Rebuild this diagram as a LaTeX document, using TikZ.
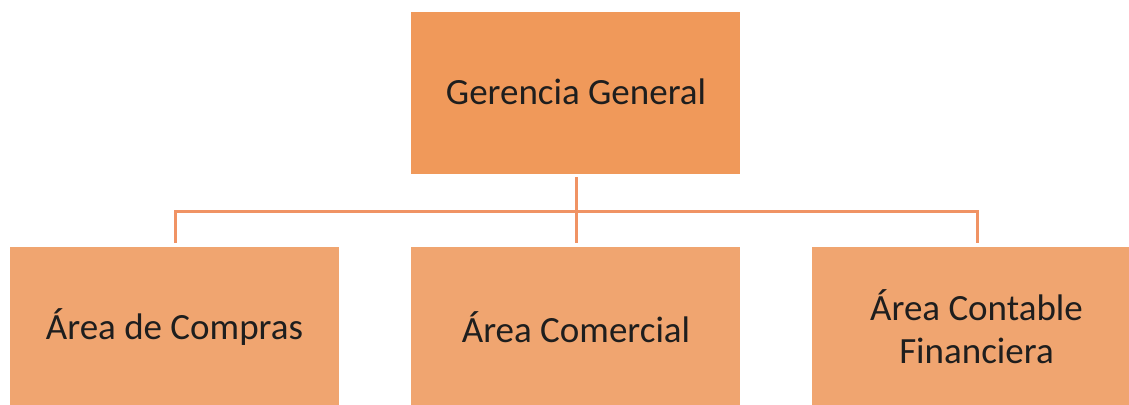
\documentclass[tikz,border=0pt]{standalone}
\usepackage{fontspec}
\setmainfont{Carlito}
\begin{document}
\begin{tikzpicture}[x=1pt,y=-1pt,
  topbox/.style={fill={rgb,255:red,240;green,153;blue,90}, draw=none, minimum width=329pt, minimum height=162pt, inner sep=0pt, anchor=north west},
  subbox/.style={fill={rgb,255:red,240;green,165;blue,112}, draw=none, minimum width=329pt, minimum height=162pt, inner sep=0pt, anchor=north west},
  lbl/.style={font=\fontsize{37}{43}\selectfont, text={rgb,255:red,30;green,30;blue,30}, align=center},
  conn/.style={draw={rgb,255:red,240;green,147;blue,100}, line width=3pt}]
\useasboundingbox (0,0) rectangle (1129,404);
\clip (0,0) rectangle (1129,404);
\node[topbox] (gg) at (411,12) {};
\node[subbox] (ac) at (10,247) {};
\node[subbox] (am) at (411,247) {};
\node[subbox] (acf) at (812,247) {};
\node[lbl] (tgg) at (576,92) {Gerencia General};
\node[lbl] (tac) at (174.5,327) {Área de Compras};
\node[lbl] (tam) at (576,327) {Área Comercial};
\node[lbl] (tacf) at (976.5,327) {Área Contable\\Financiera};
\coordinate (jl) at (175,211);
\coordinate (jr) at (977,211);
\draw[conn] (576,177) -- (576,243);
\draw[conn] (175,243) -- (jl) -- (jr) -- (977,243);
\end{tikzpicture}
\end{document}
